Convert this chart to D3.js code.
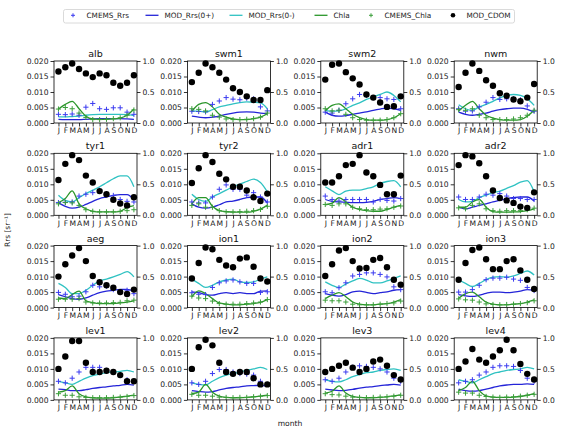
<!DOCTYPE html>
<html><head><meta charset="utf-8">
<script src="https://cdn.jsdelivr.net/npm/d3@7"></script>
<style>body{margin:0;background:#fff}svg{display:block;font-family:"DejaVu Sans",sans-serif}</style>
</head><body><svg id="c" width="561" height="429"></svg>
<script>
const regions = ["alb","swm1","swm2","nwm","tyr1","tyr2","adr1","adr2","aeg","ion1","ion2","ion3","lev1","lev2","lev3","lev4"];
const months = ["J","F","M","A","M","J","J","A","S","O","N","D"];
const leftTicks = [0, 0.005, 0.010, 0.015, 0.020];
const rightTicks = [0, 0.5, 1.0];

const cmemsRrs = [
 [0.0028,0.0027,0.0029,0.0025,0.0051,0.0063,0.0046,0.0044,0.0049,0.0049,0.0035,0.0028],
 [0.0038,0.0037,0.0036,0.0060,0.0071,0.0082,0.0077,0.0075,0.0080,0.0078,0.0052,0.0039],
 [0.0035,0.0032,0.0041,0.0062,0.0078,0.0092,0.0089,0.0082,0.0082,0.0078,0.0076,0.0046],
 [0.0046,0.0038,0.0039,0.0052,0.0067,0.0082,0.0076,0.0078,0.0078,0.0075,0.0055,0.0038],
 [0.0041,0.0042,0.0043,0.0062,0.0068,0.0073,0.0081,0.0070,0.0064,0.0051,0.0045,0.0043],
 [0.0043,0.0040,0.0040,0.0059,0.0084,0.0098,0.0084,0.0084,0.0065,0.0073,0.0059,0.0043],
 [0.0062,0.0051,0.0046,0.0051,0.0051,0.0051,0.0051,0.0043,0.0051,0.0048,0.0046,0.0054],
 [0.0059,0.0051,0.0051,0.0059,0.0068,0.0065,0.0070,0.0062,0.0054,0.0054,0.0051,0.0051],
 [0.0049,0.0043,0.0035,0.0037,0.0051,0.0072,0.0067,0.0069,0.0058,0.0051,0.0056,0.0045],
 [0.0048,0.0043,0.0042,0.0065,0.0080,0.0086,0.0089,0.0083,0.0078,0.0078,0.0049,0.0051],
 [0.0051,0.0048,0.0064,0.0080,0.0102,0.0107,0.0112,0.0112,0.0107,0.0099,0.0067,0.0058],
 [0.0050,0.0050,0.0058,0.0072,0.0090,0.0095,0.0095,0.0098,0.0092,0.0088,0.0065,0.0055],
 [0.0060,0.0055,0.0070,0.0090,0.0105,0.0105,0.0105,0.0095,0.0090,0.0080,0.0065,0.0060],
 [0.0055,0.0050,0.0060,0.0085,0.0098,0.0098,0.0090,0.0085,0.0083,0.0080,0.0060,0.0050],
 [0.0065,0.0060,0.0070,0.0090,0.0105,0.0110,0.0108,0.0105,0.0100,0.0090,0.0070,0.0060],
 [0.0055,0.0060,0.0065,0.0080,0.0090,0.0105,0.0110,0.0110,0.0108,0.0095,0.0070,0.0060]
];
const modRrs0p = [
 [0.0012,0.0011,0.0011,0.0011,0.0012,0.0013,0.0014,0.0014,0.0014,0.0014,0.0013,0.0012],
 [0.0022,0.0019,0.0017,0.0019,0.0022,0.0028,0.0032,0.0035,0.0036,0.0035,0.0032,0.0030],
 [0.0035,0.0025,0.0022,0.0024,0.0028,0.0032,0.0036,0.0041,0.0045,0.0048,0.0046,0.0041],
 [0.0035,0.0028,0.0025,0.0028,0.0032,0.0038,0.0043,0.0046,0.0048,0.0048,0.0044,0.0035],
 [0.0040,0.0029,0.0023,0.0026,0.0035,0.0045,0.0054,0.0059,0.0064,0.0067,0.0067,0.0051],
 [0.0037,0.0026,0.0023,0.0026,0.0034,0.0043,0.0046,0.0051,0.0057,0.0059,0.0059,0.0040],
 [0.0051,0.0045,0.0043,0.0042,0.0041,0.0041,0.0042,0.0045,0.0051,0.0054,0.0057,0.0054],
 [0.0026,0.0021,0.0026,0.0032,0.0037,0.0043,0.0048,0.0054,0.0057,0.0059,0.0059,0.0046],
 [0.0042,0.0035,0.0029,0.0027,0.0031,0.0040,0.0048,0.0053,0.0056,0.0059,0.0059,0.0053],
 [0.0051,0.0048,0.0042,0.0040,0.0045,0.0048,0.0045,0.0048,0.0045,0.0045,0.0053,0.0054],
 [0.0045,0.0040,0.0037,0.0042,0.0051,0.0053,0.0049,0.0045,0.0048,0.0051,0.0056,0.0058],
 [0.0042,0.0038,0.0036,0.0040,0.0046,0.0050,0.0050,0.0048,0.0050,0.0053,0.0058,0.0056],
 [0.0035,0.0033,0.0030,0.0030,0.0033,0.0037,0.0040,0.0042,0.0045,0.0047,0.0050,0.0048],
 [0.0030,0.0027,0.0025,0.0027,0.0032,0.0037,0.0040,0.0042,0.0045,0.0046,0.0047,0.0045],
 [0.0035,0.0032,0.0030,0.0031,0.0034,0.0038,0.0041,0.0043,0.0046,0.0048,0.0050,0.0048],
 [0.0035,0.0030,0.0028,0.0030,0.0035,0.0040,0.0045,0.0048,0.0050,0.0050,0.0052,0.0050]
];
const modRrs0m = [
 [0.0020,0.0020,0.0021,0.0022,0.0025,0.0027,0.0028,0.0028,0.0028,0.0028,0.0027,0.0024],
 [0.0038,0.0038,0.0035,0.0043,0.0052,0.0057,0.0062,0.0066,0.0068,0.0067,0.0065,0.0046],
 [0.0041,0.0038,0.0039,0.0046,0.0057,0.0065,0.0076,0.0084,0.0092,0.0100,0.0089,0.0068],
 [0.0059,0.0046,0.0041,0.0052,0.0060,0.0070,0.0081,0.0089,0.0092,0.0089,0.0078,0.0057],
 [0.0065,0.0048,0.0043,0.0057,0.0070,0.0081,0.0092,0.0105,0.0118,0.0127,0.0127,0.0092],
 [0.0068,0.0051,0.0045,0.0059,0.0070,0.0081,0.0092,0.0101,0.0109,0.0117,0.0106,0.0076],
 [0.0092,0.0079,0.0067,0.0078,0.0081,0.0081,0.0086,0.0092,0.0103,0.0109,0.0112,0.0092],
 [0.0051,0.0043,0.0045,0.0057,0.0065,0.0073,0.0078,0.0087,0.0096,0.0107,0.0112,0.0076],
 [0.0078,0.0065,0.0045,0.0045,0.0056,0.0072,0.0086,0.0092,0.0099,0.0107,0.0116,0.0099],
 [0.0092,0.0078,0.0065,0.0072,0.0083,0.0089,0.0092,0.0083,0.0081,0.0083,0.0092,0.0099],
 [0.0083,0.0072,0.0065,0.0076,0.0086,0.0094,0.0089,0.0080,0.0080,0.0086,0.0094,0.0102],
 [0.0090,0.0078,0.0068,0.0078,0.0090,0.0098,0.0100,0.0098,0.0102,0.0110,0.0118,0.0105],
 [0.0060,0.0055,0.0050,0.0060,0.0070,0.0078,0.0083,0.0088,0.0090,0.0092,0.0095,0.0090],
 [0.0055,0.0050,0.0048,0.0060,0.0072,0.0080,0.0085,0.0090,0.0095,0.0100,0.0105,0.0098],
 [0.0065,0.0060,0.0058,0.0065,0.0075,0.0082,0.0088,0.0090,0.0095,0.0098,0.0100,0.0095],
 [0.0065,0.0060,0.0055,0.0065,0.0075,0.0085,0.0090,0.0095,0.0098,0.0100,0.0105,0.0100]
];
const chla = [
 [0.0045,0.0060,0.0070,0.0046,0.0022,0.0013,0.0012,0.0012,0.0013,0.0016,0.0025,0.0045],
 [0.0038,0.0060,0.0066,0.0052,0.0028,0.0019,0.0013,0.0011,0.0011,0.0014,0.0019,0.0030],
 [0.0039,0.0057,0.0062,0.0046,0.0028,0.0017,0.0011,0.0009,0.0009,0.0011,0.0017,0.0030],
 [0.0039,0.0057,0.0070,0.0046,0.0025,0.0016,0.0011,0.0009,0.0009,0.0011,0.0022,0.0041],
 [0.0041,0.0054,0.0079,0.0037,0.0021,0.0013,0.0011,0.0011,0.0011,0.0013,0.0025,0.0031],
 [0.0037,0.0057,0.0057,0.0029,0.0015,0.0012,0.0010,0.0010,0.0010,0.0013,0.0020,0.0032],
 [0.0034,0.0039,0.0057,0.0043,0.0026,0.0019,0.0015,0.0013,0.0013,0.0019,0.0026,0.0032],
 [0.0026,0.0026,0.0043,0.0051,0.0026,0.0012,0.0010,0.0010,0.0011,0.0012,0.0015,0.0021],
 [0.0031,0.0029,0.0042,0.0053,0.0022,0.0016,0.0013,0.0013,0.0013,0.0015,0.0018,0.0022],
 [0.0035,0.0054,0.0045,0.0029,0.0015,0.0011,0.0009,0.0009,0.0011,0.0013,0.0017,0.0026],
 [0.0029,0.0040,0.0048,0.0035,0.0018,0.0011,0.0009,0.0009,0.0011,0.0013,0.0018,0.0026],
 [0.0030,0.0045,0.0050,0.0035,0.0018,0.0011,0.0009,0.0009,0.0011,0.0013,0.0018,0.0025],
 [0.0025,0.0030,0.0045,0.0020,0.0010,0.0007,0.0006,0.0006,0.0007,0.0009,0.0012,0.0015],
 [0.0020,0.0025,0.0050,0.0025,0.0012,0.0008,0.0007,0.0007,0.0008,0.0010,0.0012,0.0015],
 [0.0022,0.0028,0.0045,0.0022,0.0011,0.0008,0.0007,0.0007,0.0008,0.0010,0.0013,0.0016],
 [0.0030,0.0040,0.0060,0.0030,0.0013,0.0009,0.0008,0.0008,0.0009,0.0011,0.0015,0.0020]
];
const cmemsChla = [
 [0.0045,0.0050,0.0046,0.0032,0.0018,0.0011,0.0011,0.0012,0.0014,0.0017,0.0025,0.0042],
 [0.0046,0.0044,0.0039,0.0025,0.0019,0.0013,0.0011,0.0011,0.0012,0.0014,0.0019,0.0032],
 [0.0046,0.0039,0.0041,0.0028,0.0017,0.0011,0.0009,0.0009,0.0009,0.0011,0.0017,0.0030],
 [0.0043,0.0041,0.0046,0.0025,0.0017,0.0011,0.0011,0.0011,0.0013,0.0017,0.0025,0.0041],
 [0.0037,0.0041,0.0040,0.0032,0.0018,0.0013,0.0011,0.0011,0.0011,0.0013,0.0015,0.0018],
 [0.0032,0.0037,0.0026,0.0026,0.0015,0.0011,0.0011,0.0012,0.0013,0.0015,0.0019,0.0029],
 [0.0035,0.0032,0.0037,0.0037,0.0026,0.0021,0.0018,0.0018,0.0020,0.0021,0.0026,0.0030],
 [0.0024,0.0021,0.0032,0.0037,0.0021,0.0015,0.0013,0.0015,0.0015,0.0015,0.0018,0.0023],
 [0.0027,0.0027,0.0027,0.0029,0.0018,0.0015,0.0015,0.0015,0.0016,0.0017,0.0022,0.0024],
 [0.0037,0.0031,0.0029,0.0021,0.0013,0.0011,0.0011,0.0011,0.0013,0.0015,0.0018,0.0026],
 [0.0024,0.0022,0.0022,0.0018,0.0011,0.0009,0.0009,0.0009,0.0011,0.0013,0.0015,0.0021],
 [0.0028,0.0025,0.0024,0.0018,0.0012,0.0010,0.0009,0.0010,0.0011,0.0013,0.0016,0.0022],
 [0.0020,0.0015,0.0015,0.0010,0.0008,0.0007,0.0007,0.0007,0.0008,0.0009,0.0011,0.0014],
 [0.0018,0.0015,0.0015,0.0012,0.0009,0.0008,0.0007,0.0008,0.0008,0.0010,0.0012,0.0014],
 [0.0020,0.0017,0.0016,0.0012,0.0009,0.0008,0.0007,0.0008,0.0009,0.0010,0.0012,0.0015],
 [0.0025,0.0022,0.0022,0.0015,0.0011,0.0009,0.0008,0.0009,0.0010,0.0012,0.0015,0.0018]
];
const modCdom = [
 [0.83,0.90,0.96,0.87,0.80,0.74,0.80,0.77,0.65,0.60,0.65,0.77],
 [0.66,0.81,0.96,0.90,0.81,0.70,0.56,0.50,0.43,0.37,0.37,0.53],
 [0.70,0.94,0.96,0.82,0.72,0.62,0.46,0.41,0.33,0.26,0.27,0.43],
 [0.58,0.81,0.96,0.84,0.69,0.60,0.48,0.44,0.38,0.35,0.41,0.63],
 [0.57,0.83,0.97,0.89,0.64,0.53,0.39,0.34,0.25,0.19,0.16,0.29],
 [0.52,0.76,0.97,0.86,0.67,0.58,0.46,0.46,0.40,0.29,0.23,0.35],
 [0.53,0.53,0.63,0.81,0.83,0.97,0.69,0.63,0.49,0.34,0.34,0.64],
 [0.81,0.97,0.95,0.84,0.63,0.40,0.28,0.24,0.20,0.14,0.12,0.37],
 [0.50,0.70,0.84,0.96,0.75,0.51,0.41,0.36,0.32,0.25,0.22,0.29],
 [0.47,0.72,0.97,0.94,0.77,0.68,0.65,0.79,0.81,0.66,0.47,0.42],
 [0.51,0.70,0.92,0.96,0.75,0.63,0.64,0.77,0.80,0.65,0.45,0.37],
 [0.45,0.72,0.93,0.97,0.78,0.62,0.62,0.75,0.78,0.60,0.45,0.30],
 [0.50,0.70,0.95,0.95,0.60,0.45,0.45,0.47,0.45,0.40,0.30,0.30],
 [0.50,0.85,0.97,0.88,0.60,0.45,0.42,0.45,0.45,0.35,0.25,0.25],
 [0.45,0.50,0.55,0.60,0.52,0.45,0.50,0.62,0.65,0.55,0.40,0.33],
 [0.50,0.62,0.82,0.65,0.60,0.70,0.80,0.97,0.80,0.58,0.42,0.33]
];

const C = {
  cmemsRrs: "#3b3bf0", mod0p: "#2424d8", mod0m: "#2fc2c2",
  chla: "#2a962a", cmemsChla: "#3a9e3a", cdom: "#000"
};

const svg = d3.select("#c");
const W = 83, H = 62, left0 = 54, colStep = 133.4, top0 = 61, rowStep = 92.3;
const x = d3.scaleLinear().domain([-0.65, 11.45]).range([0, W]);
const y = d3.scaleLinear().domain([0, 0.020]).range([H, 0]);
const y2 = d3.scaleLinear().domain([0, 1.0]).range([H, 0]);
const idx = d3.range(12);
const line = d3.line().x(i => x(i)).curve(d3.curveMonotoneX);

function plus(g, data, color, scale) {
  g.selectAll(null).data(idx).join("path")
    .attr("d", i => { const px = x(i), py = scale(data[i]); return `M${px-2.6},${py}H${px+2.6}M${px},${py-2.6}V${py+2.6}`; })
    .attr("stroke", color).attr("stroke-width", 1).attr("fill", "none");
}

regions.forEach((name, k) => {
  const r = Math.floor(k / 4), c = k % 4;
  const g = svg.append("g").attr("transform", `translate(${left0 + c*colStep},${top0 + r*rowStep})`);
  const ax = g.append("g").attr("transform", `translate(0,${H})`)
    .call(d3.axisBottom(x).tickValues(idx).tickFormat(i => months[i]).tickSize(3.5).tickPadding(1.5));
  const ay = g.append("g").call(d3.axisLeft(y).tickValues(leftTicks).tickFormat(d3.format(".3f")).tickSize(3.5).tickPadding(2));
  const ay2 = g.append("g").attr("transform", `translate(${W},0)`)
    .call(d3.axisRight(y2).tickValues(rightTicks).tickFormat(d3.format(".1f")).tickSize(3.5).tickPadding(2));
  [ax, ay, ay2].forEach(a => {
    a.select(".domain").remove();
    a.selectAll("line").attr("stroke", "#000").attr("stroke-width", 0.8);
    a.selectAll("text").attr("font-size", 7.6).attr("fill", "#222").attr("font-family", "DejaVu Sans");
  });
  g.append("path").attr("d", line.y(i => y(modRrs0m[k][i]))(idx)).attr("fill","none").attr("stroke",C.mod0m).attr("stroke-width",1.3);
  g.append("path").attr("d", line.y(i => y(modRrs0p[k][i]))(idx)).attr("fill","none").attr("stroke",C.mod0p).attr("stroke-width",1.3);
  g.append("path").attr("d", line.y(i => y(chla[k][i]))(idx)).attr("fill","none").attr("stroke",C.chla).attr("stroke-width",1.3);
  plus(g, cmemsRrs[k], C.cmemsRrs, y);
  plus(g, cmemsChla[k], C.cmemsChla, y);
  g.selectAll(null).data(idx).join("circle")
    .attr("cx", i => x(i)).attr("cy", i => y2(modCdom[k][i])).attr("r", 3.2).attr("fill", C.cdom);
  g.append("rect").attr("width", W).attr("height", H).attr("fill","none").attr("stroke","#000").attr("stroke-width",0.8);
  g.append("text").attr("x", W/2).attr("y", -4).attr("text-anchor","middle")
    .attr("font-size", 9.5).attr("fill","#111").text(name);
});

svg.append("text").attr("transform","translate(10,230) rotate(-90)").attr("text-anchor","middle")
  .attr("font-size",7.4).attr("fill","#222").text("Rrs [sr⁻¹]");
svg.append("text").attr("x",290).attr("y",426).attr("text-anchor","middle")
  .attr("font-size",7.6).attr("fill","#222").text("month");

const legendItems = [
  {label:"CMEMS_Rrs", type:"plus", color:C.cmemsRrs, x:73},
  {label:"MOD_Rrs(0+)", type:"line", color:C.mod0p, x:152},
  {label:"MOD_Rrs(0-)", type:"line", color:C.mod0m, x:236},
  {label:"Chla", type:"line", color:C.chla, x:321},
  {label:"CMEMS_Chla", type:"plus", color:C.cmemsChla, x:371},
  {label:"MOD_CDOM", type:"dot", color:C.cdom, x:453}
];
const lg = svg.append("g");
lg.append("rect").attr("x",63.5).attr("y",9.5).attr("width",451).attr("height",13.5).attr("rx",2)
  .attr("fill","#fff").attr("stroke","#d0d0d0").attr("stroke-width",0.8);
legendItems.forEach(it => {
  const cy = 15.3;
  if (it.type === "plus") {
    lg.append("path").attr("d",`M${it.x-2},${cy}H${it.x+2}M${it.x},${cy-2}V${cy+2}`).attr("stroke",it.color).attr("stroke-width",1);
    lg.append("text").attr("x",it.x+13.5).attr("y",cy+2.7).attr("font-size",7.3).attr("fill","#222").text(it.label);
  } else if (it.type === "line") {
    lg.append("line").attr("x1",it.x-6.5).attr("x2",it.x+6.5).attr("y1",cy).attr("y2",cy).attr("stroke",it.color).attr("stroke-width",1.3);
    lg.append("text").attr("x",it.x+12.5).attr("y",cy+2.7).attr("font-size",7.3).attr("fill","#222").text(it.label);
  } else {
    lg.append("circle").attr("cx",it.x).attr("cy",cy).attr("r",2.3).attr("fill",it.color);
    lg.append("text").attr("x",it.x+13.5).attr("y",cy+2.7).attr("font-size",7.3).attr("fill","#222").text(it.label);
  }
});
</script></body></html>
